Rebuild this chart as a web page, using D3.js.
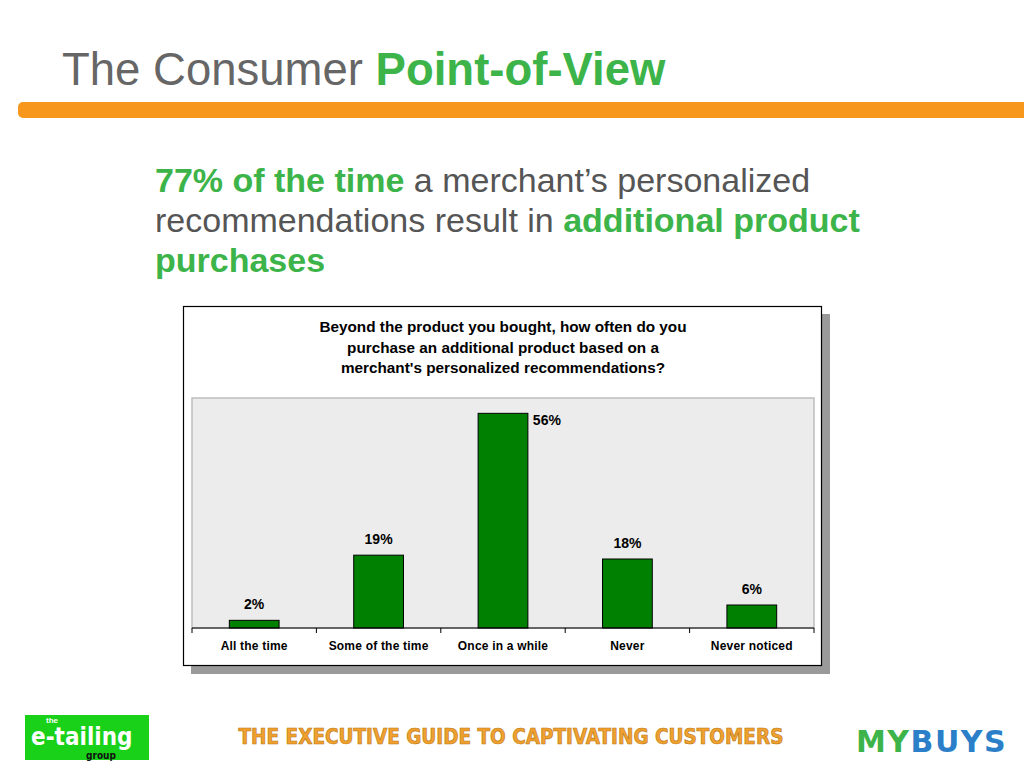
<!DOCTYPE html>
<html>
<head>
<meta charset="utf-8">
<script src="https://cdn.jsdelivr.net/npm/d3@7"></script>
<style>
  body { margin: 0; background: #fff; }
  svg { display: block; font-family: "Liberation Sans", Arial, sans-serif; }
</style>
</head>
<body>
<div class="slide"></div>
<script>
// chart data
var categories = ['All the time', 'Some of the time', 'Once in a while', 'Never', 'Never noticed'];
var values = [2, 19, 56, 18, 6];
var valueLabels = ['2%', '19%', '56%', '18%', '6%'];
var chartTitle = ['Beyond the product you bought, how often do you',
                  'purchase an additional product based on a',
                  "merchant's personalized recommendations?"];

var width = 1024;
var height = 768;
var green = '#3cb44a';

var svg = d3.select('.slide').append('svg')
  .attr('width', width)
  .attr('height', height);

// slide heading
var head = svg.append('text')
  .attr('x', 62)
  .attr('y', 85)
  .style('font-size', '45.5px');
head.append('tspan').attr('fill', '#666').text('The Consumer ');
head.append('tspan').attr('fill', green).style('font-weight', 'bold').text('Point-of-View');

// orange rule
svg.append('rect')
  .attr('x', 18).attr('y', 102)
  .attr('width', 1020).attr('height', 16)
  .attr('rx', 5)
  .attr('fill', '#f7981d');

// statement
var lines = [
  [['77% of the time', true], [' a merchant\u2019s personalized', false]],
  [['recommendations result in ', false], ['additional product', true]],
  [['purchases', true]]
];
lines.forEach(function(parts, i) {
  var t = svg.append('text')
    .attr('x', 155)
    .attr('y', 192 + i * 40)
    .style('font-size', '34px');
  parts.forEach(function(p) {
    t.append('tspan')
      .attr('fill', p[1] ? green : '#555')
      .style('font-weight', p[1] ? 'bold' : 'normal')
      .text(p[0]);
  });
});

// chart frame with shadow
svg.append('rect')
  .attr('x', 191).attr('y', 314)
  .attr('width', 639).attr('height', 360)
  .attr('fill', '#9a9a9a');
svg.append('rect')
  .attr('x', 183.5).attr('y', 306.5)
  .attr('width', 638).attr('height', 359)
  .attr('fill', '#fff')
  .attr('stroke', '#000')
  .attr('stroke-width', 1.2);

chartTitle.forEach(function(l, i) {
  svg.append('text')
    .attr('x', 503)
    .attr('y', 332 + i * 20.5)
    .attr('text-anchor', 'middle')
    .style('font-size', '15.3px')
    .style('font-weight', 'bold')
    .text(l);
});

// plot area
var plot = { left: 192, right: 814, top: 398, bottom: 628 };

svg.append('rect')
  .attr('x', plot.left).attr('y', plot.top)
  .attr('width', plot.right - plot.left)
  .attr('height', plot.bottom - plot.top)
  .attr('fill', '#ececec')
  .attr('stroke', '#bdbdbd')
  .attr('stroke-width', 1.5);

var xScale = d3.scaleBand()
  .domain(categories)
  .range([plot.left, plot.right])
  .paddingInner(0.6)
  .paddingOuter(0.3);

var yScale = d3.scaleLinear()
  .domain([0, 60])
  .range([plot.bottom, plot.top]);

svg.selectAll('.bar')
  .data(values)
  .enter()
  .append('rect')
  .attr('class', 'bar')
  .attr('x', function(d, i) { return xScale(categories[i]); })
  .attr('y', function(d) { return yScale(d); })
  .attr('width', xScale.bandwidth())
  .attr('height', function(d) { return plot.bottom - yScale(d); })
  .attr('fill', '#008000')
  .attr('stroke', '#000')
  .attr('stroke-width', 1);

// value labels; the tallest one sits beside the bar
svg.selectAll('.val')
  .data(values)
  .enter()
  .append('text')
  .attr('class', 'val')
  .attr('x', function(d, i) {
    var cx = xScale(categories[i]) + xScale.bandwidth() / 2;
    return d > 50 ? cx + xScale.bandwidth() / 2 + 19 : cx;
  })
  .attr('y', function(d) {
    return d > 50 ? yScale(d) + 12 : yScale(d) - 11;
  })
  .attr('text-anchor', 'middle')
  .style('font-size', '14px')
  .style('font-weight', 'bold')
  .text(function(d, i) { return valueLabels[i]; });

// category axis with tick marks between bands
var tickPos = d3.range(categories.length + 1).map(function(i) { return plot.left + i * (plot.right - plot.left) / categories.length; });

svg.append('line')
  .attr('x1', plot.left).attr('x2', plot.right)
  .attr('y1', plot.bottom).attr('y2', plot.bottom)
  .attr('stroke', '#000').attr('stroke-width', 1.2);

svg.selectAll('.tick')
  .data(tickPos)
  .enter()
  .append('line')
  .attr('x1', function(d) { return d; })
  .attr('x2', function(d) { return d; })
  .attr('y1', plot.bottom)
  .attr('y2', plot.bottom + 5)
  .attr('stroke', '#000');

var xAxisScale = d3.scalePoint()
  .domain(categories)
  .range([plot.left + (plot.right - plot.left) / 10, plot.right - (plot.right - plot.left) / 10]);

svg.selectAll('.cat')
  .data(categories)
  .enter()
  .append('text')
  .attr('class', 'cat')
  .attr('x', function(d) { return xAxisScale(d); })
  .attr('y', 650)
  .attr('text-anchor', 'middle')
  .style('font-size', '12px')
  .style('font-weight', 'bold')
  .style('letter-spacing', '0.2px')
  .text(function(d) { return d; });

// footer: e-tailing group badge
svg.append('rect')
  .attr('x', 25).attr('y', 715)
  .attr('width', 124).attr('height', 45)
  .attr('fill', '#19d119');
svg.append('text')
  .attr('x', 46).attr('y', 723)
  .attr('fill', '#fff')
  .style('font-size', '8px')
  .style('font-weight', 'bold')
  .text('the');
svg.append('text')
  .attr('x', 31).attr('y', 745)
  .attr('fill', '#fff')
  .style('font-family', '"Liberation Sans Narrow", "DejaVu Sans Condensed", sans-serif')
  .style('font-size', '24px')
  .style('font-weight', 'bold')
  .text('e-tailing');
svg.append('text')
  .attr('x', 86).attr('y', 759)
  .attr('fill', '#111')
  .style('font-family', '"Liberation Sans Narrow", "DejaVu Sans Condensed", sans-serif')
  .style('font-size', '10px')
  .style('font-weight', 'bold')
  .text('group');

// footer: tagline
svg.append('text')
  .attr('x', 511).attr('y', 744)
  .attr('text-anchor', 'middle')
  .attr('fill', '#f0a030')
  .attr('stroke', '#b87810')
  .attr('stroke-width', 0.6)
  .style('font-family', '"DejaVu Sans Condensed", "DejaVu Sans", sans-serif')
  .style('font-size', '20.5px')
  .style('font-weight', 'bold')
  .text('THE EXECUTIVE GUIDE TO CAPTIVATING CUSTOMERS');

// footer: MYBUYS logo
var logo = svg.append('text')
  .attr('x', 856).attr('y', 752)
  .style('font-family', '"DejaVu Sans", sans-serif')
  .style('font-size', '30px')
  .style('font-weight', 'bold')
  .style('letter-spacing', '1.5px');
logo.append('tspan').attr('fill', '#3cb44a').text('MY');
logo.append('tspan').attr('fill', '#2a7fc8').text('BUYS');
</script>
</body>
</html>
